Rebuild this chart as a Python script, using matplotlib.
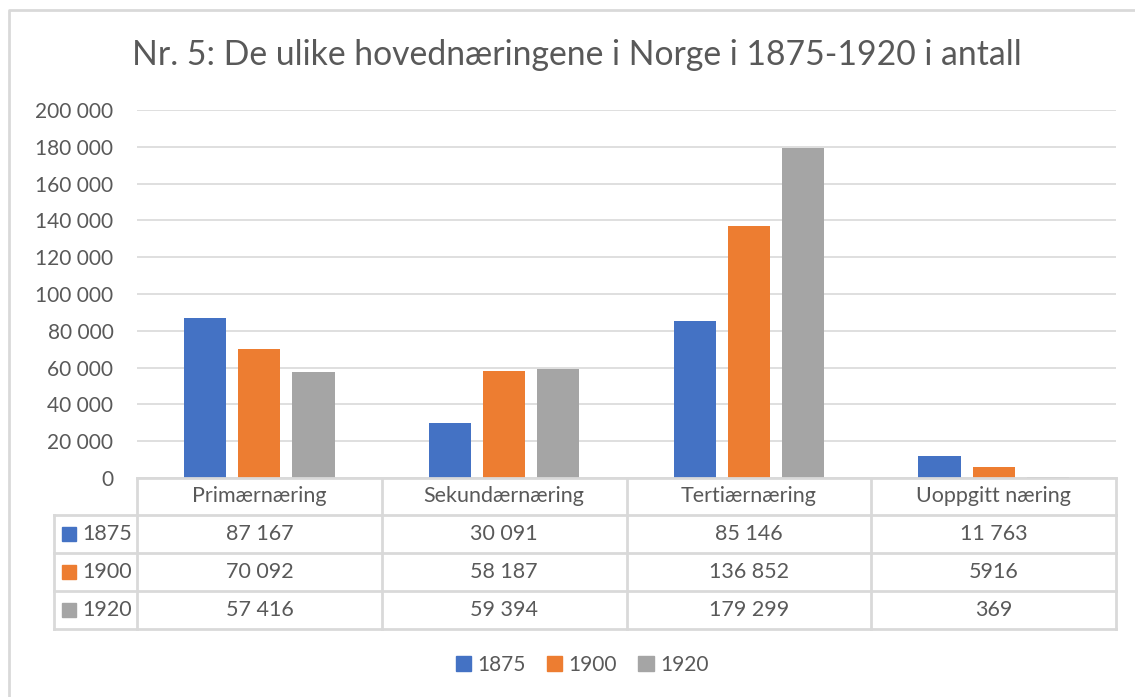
import numpy as np
import matplotlib
matplotlib.use("Agg")
from matplotlib import pyplot as plt
from matplotlib.lines import Line2D
from matplotlib.patches import Rectangle
import matplotlib.transforms as mtransforms

plt.rcParams['font.family'] = ['Lato', 'DejaVu Sans']

# data
kategorier = ['Primærnæring', 'Sekundærnæring', 'Tertiærnæring', 'Uoppgitt næring']
aar = ['1875', '1900', '1920']
v1875 = [87167, 30091, 85146, 11763]
v1900 = [70092, 58187, 136852, 5916]
v1920 = [57416, 59394, 179299, 369]
tabell_tekst = [['87 167', '30 091', '85 146', '11 763'],
                ['70 092', '58 187', '136 852', '5916'],
                ['57 416', '59 394', '179 299', '369']]
farger = ['#4472C4', '#ED7D31', '#A5A5A5']
yticks = np.arange(0, 200001, 20000)

W, H = 1135, 697
tekstfarge = '#595959'
linjefarge = '#D9D9D9'
fs = 15.5

fig = plt.figure(figsize=(W / 100, H / 100), dpi=100)

def fy(py):
    return 1 - py / H

# plotomrade
x0, x1, y_top, y_bot = 137, 1116, 110, 478
ax = fig.add_axes([x0 / W, fy(y_bot), (x1 - x0) / W, (y_bot - y_top) / H])

x = np.arange(len(kategorier))
bw = 0.172
step = 0.221
serier = [v1875, v1900, v1920]
for i, s in enumerate(serier):
    ax.bar(x + (i - 1) * step, s, width=bw, color=farger[i], zorder=3)

ax.set_xlim(-0.5, len(kategorier) - 0.5)
ax.set_ylim(0, 200000)
ax.set_yticks(yticks)
ax.set_yticklabels([f'{v:,}'.replace(',', ' ') for v in yticks], fontsize=15, color=tekstfarge)
ax.tick_params(axis='y', length=0, pad=17)
ax.set_xticks([])
ax.grid(axis='y', color=linjefarge, linewidth=1.2, zorder=0)
for sp in ax.spines.values():
    sp.set_visible(False)

# tittel
fig.text(577 / W, fy(55), 'Nr. 5: De ulike hovednæringene i Norge i 1875-1920 i antall',
         ha='center', va='center', fontsize=24.3, color=tekstfarge)

# datatabell
tr = mtransforms.blended_transform_factory(ax.transData, fig.transFigure)
rad_y = [478, 515, 553, 591, 629]
venstre = 54
lkw = dict(color=linjefarge, linewidth=2)
# horisontale linjer
fig.add_artist(Line2D([x0 / W, x1 / W], [fy(rad_y[0])] * 2, transform=fig.transFigure, **lkw))
for ry in rad_y[1:]:
    fig.add_artist(Line2D([venstre / W, x1 / W], [fy(ry)] * 2, transform=fig.transFigure, **lkw))
# vertikale linjer
fig.add_artist(Line2D([venstre / W] * 2, [fy(rad_y[1]), fy(rad_y[-1])], transform=fig.transFigure, **lkw))
for b in np.arange(len(kategorier) + 1) - 0.5:
    fig.add_artist(Line2D([b, b], [fy(rad_y[0]), fy(rad_y[-1])], transform=tr, **lkw))

for j, k in enumerate(kategorier):
    fig.text(j, fy((rad_y[0] + rad_y[1]) / 2), k, transform=tr, ha='center', va='center',
             fontsize=fs, color=tekstfarge)
    for i in range(len(aar)):
        fig.text(j, fy((rad_y[i + 1] + rad_y[i + 2]) / 2), tabell_tekst[i][j], transform=tr,
                 ha='center', va='center', fontsize=fs, color=tekstfarge)

for i, a in enumerate(aar):
    cy = (rad_y[i + 1] + rad_y[i + 2]) / 2
    fig.add_artist(Rectangle((62 / W, fy(cy + 7)), 14 / W, 14 / H, transform=fig.transFigure,
                             color=farger[i]))
    fig.text(82 / W, fy(cy), a, ha='left', va='center', fontsize=fs, color=tekstfarge)

# forklaring
handles = [Rectangle((0, 0), 1, 1, color=c) for c in farger]
fig.legend(handles, aar, loc='center', bbox_to_anchor=(582 / W, fy(665)), ncol=3, frameon=False,
           fontsize=15, labelcolor=tekstfarge, handlelength=0.75, handleheight=0.75,
           handletextpad=0.3, columnspacing=1.0)

# ramme
fig.add_artist(Line2D([9 / W, 9 / W, 1], [0, fy(10), fy(10)], transform=fig.transFigure,
                      color=linjefarge, linewidth=2))

fig.savefig('out.png', dpi=100)
